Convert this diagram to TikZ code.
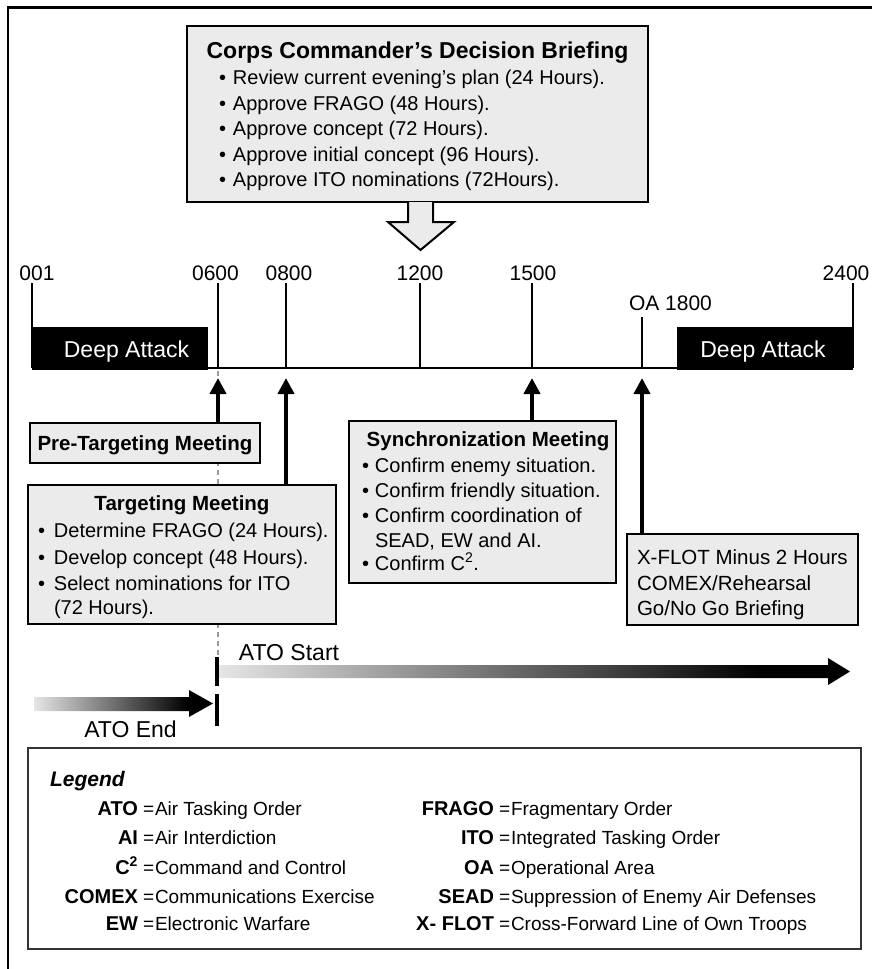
\documentclass[tikz,border=0pt]{standalone}
\usepackage{fontspec}
\setmainfont{Liberation Sans}
\usetikzlibrary{arrows.meta}
\definecolor{boxgray}{HTML}{EBEBEB}
\definecolor{dashgray}{HTML}{9A9A9A}
\pgfdeclarehorizontalshading{atoshade}{100bp}{color(0bp)=(black!10); color(25bp)=(black!10); color(68bp)=(black); color(100bp)=(black)}
\newcommand\fBody{\fontsize{20pt}{24pt}\selectfont}
\newcommand\fBold{\fontsize{20.5pt}{24pt}\selectfont\bfseries}
\newcommand\fCC{\fontsize{23pt}{27pt}\selectfont\bfseries}
\newcommand\fTime{\fontsize{21pt}{25pt}\selectfont}
\newcommand\fBig{\fontsize{23pt}{27pt}\selectfont}
\newcommand\fKey{\fontsize{20pt}{24pt}\selectfont\bfseries}
\newcommand\fDef{\fontsize{19pt}{23pt}\selectfont}
\newcommand\fLeg{\fontsize{21pt}{25pt}\selectfont\bfseries\itshape}
\newcommand\bul[1]{\makebox[#1][l]{•}}
\tikzset{
  every node/.style={inner sep=0pt, outer sep=0pt},
  gbox/.style={draw=black, fill=boxgray, line width=2pt, anchor=north west},
  ln/.style={anchor=base west, font=\fBody},
  ttl/.style={anchor=base, font=\fBold},
  tlab/.style={anchor=base, font=\fTime},
  ticks/.style={line width=2.8pt},
  upar/.style={line width=4pt, -{Triangle[width=16pt,length=16pt]}},
  key/.style={anchor=base east, font=\fKey},
  eqs/.style={anchor=base west, font=\fDef},
  defn/.style={anchor=base west, font=\fDef},
  atobar/.style={line width=4.5pt},
}
\begin{document}
\begin{tikzpicture}[x=1pt,y=-1pt]
\useasboundingbox (0,0) rectangle (872,969);
\fill[white] (0,0) rectangle (872,969);
% outer frame
\draw[line width=2.6pt] (8,980) -- (8,7.5) -- (885,7.5);

% ---------- Corps Commander's Decision Briefing ----------
\node[gbox, line width=2.5pt, minimum width=461pt, minimum height=176pt] (ccdb) at (187,26) {};
\draw[line width=2pt, fill=boxgray] (408,202) -- (408,222) -- (388,222) -- (420.5,250) -- (454,222) -- (433,222) -- (433,202);
\node[anchor=base, font=\fCC] (cct) at (417.5,58) {Corps Commander's Decision Briefing};
\node[ln] (cc1) at (219,84.6) {\bul{14pt}Review current evening's plan (24 Hours).};
\node[ln] (cc2) at (219,110.3) {\bul{14pt}Approve FRAGO (48 Hours).};
\node[ln] (cc3) at (219,135.8) {\bul{14pt}Approve concept (72 Hours).};
\node[ln] (cc4) at (219,161.3) {\bul{14pt}Approve initial concept (96 Hours).};
\node[ln] (cc5) at (219,186.6) {\bul{14pt}Approve ITO nominations (72Hours).};

% ---------- timeline ----------
\coordinate (L) at (32,368);
\coordinate (R) at (853,368);
\node[fill=black, minimum width=176pt, minimum height=43pt, anchor=north west] (da1) at (32,327) {};
\node[fill=black, minimum width=176pt, minimum height=43pt, anchor=north west] (da2) at (677,327) {};
\node[anchor=base, font=\fBig, text=white] (da1t) at (126.5,357) {Deep Attack};
\node[anchor=base, font=\fBig, text=white] (da2t) at (763,357) {Deep Attack};
\draw[ticks] (L) -- (R);
\coordinate (k001) at (32,283);
\coordinate (k0600) at (218,283);
\coordinate (k0800) at (286,283);
\coordinate (k1200) at (420,283);
\coordinate (k1500) at (532,283);
\coordinate (k1800) at (642,317);
\coordinate (k2400) at (853,283);
\draw[ticks] (k001) -- (L);
\draw[ticks] (k0600) -- (k0600 |- L);
\draw[ticks] (k0800) -- (k0800 |- L);
\draw[ticks] (k1200) -- (k1200 |- L);
\draw[ticks] (k1500) -- (k1500 |- L);
\draw[ticks] (k1800) -- (k1800 |- L);
\draw[ticks] (k2400) -- (R);
\node[tlab] (l001) at (37,280) {001};
\node[tlab] (l0600) at (215.5,280) {0600};
\node[tlab] (l0800) at (289,280) {0800};
\node[tlab] (l1200) at (420,280) {1200};
\node[tlab] (l1500) at (533,280) {1500};
\node[tlab] (l2400) at (846,280) {2400};
\node[anchor=base west, font=\fTime] (l1800) at (629,310) {OA 1800};

% dashed 0600 continuation
\coordinate (dashend) at (218,660);
\draw[dashgray, line width=2pt, dash pattern=on 5pt off 4pt] (218,371) -- (dashend);

% ---------- boxes below ----------
\node[gbox, minimum width=230pt, minimum height=40pt] (pret) at (30,423) {};
\node[ttl] (prett) at (145,450) {Pre-Targeting Meeting};

\node[gbox, minimum width=308pt, minimum height=139pt] (targ) at (28,485) {};
\node[ttl] (targt) at (182,510.3) {Targeting Meeting};
\node[ln] (tg1) at (38,537.3) {\bul{16pt}Determine FRAGO (24 Hours).};
\node[ln] (tg2) at (38,564.5) {\bul{16pt}Develop concept (48 Hours).};
\node[ln] (tg3) at (38,590.3) {\bul{16pt}Select nominations for ITO};
\node[ln] (tg4) at (54,614.3) {(72 Hours).};

\node[gbox, minimum width=267pt, minimum height=162pt] (sync) at (349,421) {};
\node[ttl] (synct) at (488,446.3) {Synchronization Meeting};
\node[ln] (sy1) at (362,472.3) {\bul{13pt}Confirm enemy situation.};
\node[ln] (sy2) at (362,497.3) {\bul{13pt}Confirm friendly situation.};
\node[ln] (sy3) at (362,522.3) {\bul{13pt}Confirm coordination of};
\node[ln] (sy4) at (375,547.8) {SEAD, EW and AI.};
\node[ln] (sy5) at (362,570.5) {\bul{13pt}Confirm C\textsuperscript{2}.};

\node[gbox, minimum width=231pt, minimum height=91pt] (xflot) at (627,534) {};
\node[ln, font=\fontsize{20.5pt}{24pt}\selectfont] (xf1) at (637,564.3) {X-FLOT Minus 2 Hours};
\node[ln, font=\fontsize{20.5pt}{24pt}\selectfont] (xf2) at (637,590.3) {COMEX/Rehearsal};
\node[ln, font=\fontsize{20.5pt}{24pt}\selectfont] (xf3) at (637,615.3) {Go/No Go Briefing};

% arrows up to the timeline
\coordinate (a0600) at (218,378);
\coordinate (a0800) at (286,378);
\coordinate (a1500) at (532,378);
\coordinate (a1800) at (642,378);
\draw[upar] (a0600 |- pret.north) -- (a0600);
\draw[upar] (a0800 |- targ.north) -- (a0800);
\draw[upar] (a1500 |- sync.north) -- (a1500);
\draw[upar] (a1800 |- xflot.north) -- (a1800);

% ---------- ATO arrows ----------
\shade[shading=atoshade] (219,665) -- (828,665) -- (828,658) -- (850,671.5) -- (828,685) -- (828,678) -- (219,678) -- cycle;
\shade[shading=atoshade] (34,697) -- (189,697) -- (189,690) -- (213,703.5) -- (189,717) -- (189,711) -- (34,711) -- cycle;
\coordinate (bs1) at (217,657);
\coordinate (bs2) at (217,686);
\coordinate (be1) at (217,694);
\coordinate (be2) at (217,726);
\draw[atobar] (bs1) -- (bs2);
\draw[atobar] (be1) -- (be2);
\node[anchor=base, font=\fBig] (atos) at (289,660) {ATO Start};
\node[anchor=base, font=\fBig] (atoe) at (130.5,737) {ATO End};

% ---------- legend ----------
\node[draw=black!80, line width=1.5pt, fill=white, minimum width=833pt, minimum height=201pt, anchor=north west] (legend) at (28,748) {};
\node[anchor=base west, font=\fLeg] (legt) at (50,786) {Legend};

\node[key] (k1) at (138,815) {ATO};
\node[eqs] (e1) at (143,815) {=};
\node[defn] (d1) at (155,815) {Air Tasking Order};
\node[key] (k2) at (138,844.5) {AI};
\node[eqs] (e2) at (143,844.5) {=};
\node[defn] (d2) at (155,844.5) {Air Interdiction};
\node[key] (k3) at (138,874) {C\textsuperscript{2}};
\node[eqs] (e3) at (143,874) {=};
\node[defn] (d3) at (155,874) {Command and Control};
\node[key] (k4) at (138,903) {COMEX};
\node[eqs] (e4) at (143,903) {=};
\node[defn] (d4) at (155,903) {Communications Exercise};
\node[key] (k5) at (138,930.5) {EW};
\node[eqs] (e5) at (143,930.5) {=};
\node[defn] (d5) at (155,930.5) {Electronic Warfare};

\node[key] (k6) at (494,815) {FRAGO};
\node[eqs] (e6) at (499,815) {=};
\node[defn] (d6) at (511,815) {Fragmentary Order};
\node[key] (k7) at (494,844.5) {ITO};
\node[eqs] (e7) at (499,844.5) {=};
\node[defn] (d7) at (511,844.5) {Integrated Tasking Order};
\node[key] (k8) at (494,874) {OA};
\node[eqs] (e8) at (499,874) {=};
\node[defn] (d8) at (511,874) {Operational Area};
\node[key] (k9) at (494,903) {SEAD};
\node[eqs] (e9) at (499,903) {=};
\node[defn] (d9) at (511,903) {Suppression of Enemy Air Defenses};
\node[key] (k10) at (494,930.5) {X- FLOT};
\node[eqs] (e10) at (499,930.5) {=};
\node[defn] (d10) at (511,930.5) {Cross-Forward Line of Own Troops};
\end{tikzpicture}
\end{document}
